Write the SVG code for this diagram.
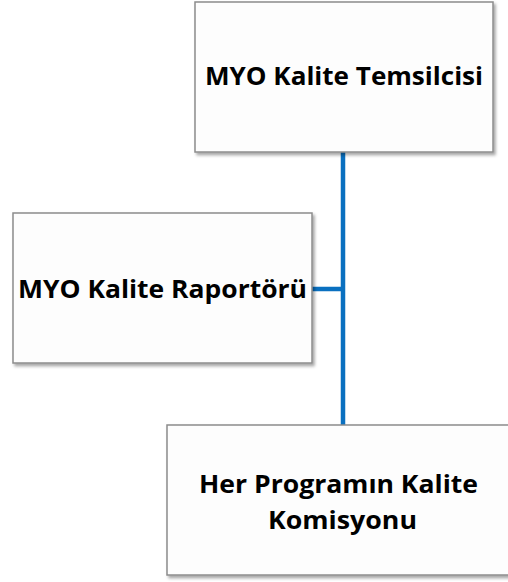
<svg xmlns="http://www.w3.org/2000/svg" width="508" height="582" viewBox="0 0 508 582">
<defs>
<filter id="sh" x="-10%" y="-10%" width="130%" height="130%">
<feDropShadow dx="2" dy="2.5" stdDeviation="1.5" flood-color="#000" flood-opacity="0.35"/>
</filter>
<style>
.box{fill:#fdfdfd;stroke:#8c8c8c;stroke-width:1.5;filter:url(#sh)}
.t{font-family:"Open Sans",Lato,"Liberation Sans",sans-serif;font-weight:bold;fill:#000;text-anchor:middle;font-size:25.5px}
.c{stroke:#0a70c0;stroke-width:4.5;fill:none}
</style>
</defs>
<rect width="508" height="582" fill="#ffffff"/>
<g id="connectors">
<line class="c" x1="343" y1="152" x2="343" y2="425"/>
<line class="c" x1="312" y1="289" x2="345" y2="289"/>
</g>
<g id="node-temsilci">
<rect class="box" x="195" y="2" width="298" height="150"/>
<text class="t" x="344" y="85" textLength="278" lengthAdjust="spacingAndGlyphs">MYO Kalite Temsilcisi</text>
</g>
<g id="node-raportor">
<rect class="box" x="13" y="213" width="299" height="150"/>
<text class="t" x="162.5" y="298" textLength="289" lengthAdjust="spacingAndGlyphs">MYO Kalite Raportörü</text>
</g>
<g id="node-komisyon">
<rect class="box" x="167" y="425" width="350" height="150"/>
<text class="t" x="338.5" y="493" textLength="279" lengthAdjust="spacingAndGlyphs">Her Programın Kalite</text>
<text class="t" x="342.5" y="529" textLength="149" lengthAdjust="spacingAndGlyphs">Komisyonu</text>
</g>
</svg>
